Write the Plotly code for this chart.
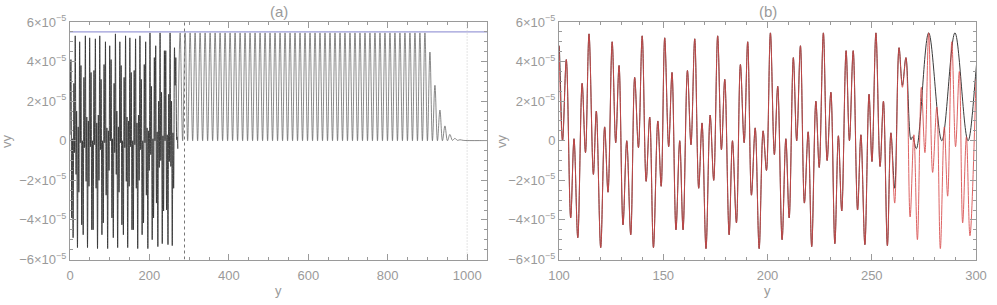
import numpy as np
import plotly.graph_objects as go

# ---------------- data (vy in units of 1e-5) ----------------
# extrema of the early, irregular part (0-100), estimated from panel (a)
seg0_x = [0.0, 2.3, 4.4, 6.0, 7.8, 9.9, 11.5, 13.2, 15.3, 16.7, 18.8, 20.7, 22.3, 24.3,
          26.0, 27.6, 29.5, 31.3, 33.2, 35.1, 36.9, 38.7, 40.6, 42.3, 44.1, 46.2, 47.8,
          49.5, 51.4, 53.0, 54.9, 56.7, 58.3, 60.4, 62.1, 63.9, 65.8, 67.4, 69.3, 71.3,
          73.0, 74.9, 76.7, 78.3, 80.4, 82.0, 83.9, 85.8, 87.6, 89.3, 91.1, 92.9, 94.8,
          96.7, 98.3]
seg0_v = [0.3, 4.1, -3.9, 0.1, -4.9, 2.9, -0.6, 5.3, -1.7, 1.5, -5.4, 0.7, -2.6, 5.0,
          -0.1, 3.8, -4.25, 0.0, -4.75, 3.2, -0.35, 5.3, -2.05, 1.2, -5.4, 1.0, -2.3,
          5.2, -0.3, 3.45, -4.5, 0.0, -4.5, 3.55, -0.2, 5.15, -2.4, 0.9, -5.45, 1.3,
          -2.0, 5.3, -0.45, 3.1, -4.75, 0.0, -4.15, 3.85, -0.1, 5.0, -2.75, 0.65, -5.45,
          0.5, -1.5]

# extrema common to both curves (100-259)
common_x = [100.0, 101.7, 103.5, 105.6, 107.2, 109.0, 111.1, 112.7, 114.4, 116.5, 117.9,
            120.0, 121.9, 123.5, 125.5, 127.2, 128.8, 130.7, 132.5, 134.4, 136.3, 138.1,
            139.9, 141.8, 143.5, 145.3, 147.4, 149.0, 150.7, 152.6, 154.2, 156.1, 157.9,
            159.5, 161.6, 163.3, 165.1, 167.0, 168.6, 170.5, 172.5, 174.2, 176.1, 177.9,
            179.5, 181.6, 183.2, 185.1, 187.0, 188.8, 190.5, 192.3, 194.1, 196.0, 197.9,
            199.5, 201.4, 203.3, 204.9, 207.0, 208.8, 210.4, 212.4, 214.0, 215.8, 217.7,
            219.5, 221.2, 223.2, 224.8, 226.8, 228.6, 230.4, 232.3, 234.0, 235.6, 237.7,
            239.3, 241.1, 243.2, 244.8, 246.7, 248.7, 250.1, 252.0, 254.0, 255.6, 257.5,
            259.2]
common_v = [4.8, 0.0, 4.1, -3.9, 0.1, -4.9, 2.9, -0.6, 5.4, -1.7, 1.5,
            -5.4, 0.7, -2.6, 5.0, -0.1, 3.8, -4.25, 0.0, -4.75, 3.2, -0.35,
            5.3, -2.05, 1.2, -5.4, 1.0, -2.3, 5.2, -0.3, 3.45, -4.5, 0.0,
            -4.5, 3.55, -0.2, 5.15, -2.4, 0.9, -5.45, 1.3, -2.0, 5.3, -0.45,
            3.1, -4.75, 0.0, -4.15, 3.85, -0.1, 5.0, -2.75, 0.65, -5.45, 0.5,
            -1.5, 5.45, -0.7, 2.75, -5.0, 0.1, -3.9, 4.2, 0.0, 4.8, -3.15,
            0.45, -5.35, 2.0, -1.35, 5.45, -1.0, 2.45, -5.2, 0.25, -3.55, 4.55,
            0.0, 4.55, -3.5, 0.3, -5.25, 2.35, -1.05, 5.45, -1.3, 2.0, -5.3,
            0.4]

# black curve after divergence
black_tail_x = [261.0, 263.1, 264.7, 266.4, 268.8, 269.6, 271.4]
black_tail_v = [-2.4, 4.7, 2.8, 4.2, 0.05, 0.2, -0.4]

# red curve after divergence
red_tail_x = [261.0, 263.1, 264.7, 266.4, 268.4, 270.2, 271.9, 273.8, 275.5, 277.3,
              279.2, 281.2, 282.9, 284.8, 286.4, 288.4, 290.2, 292.0, 293.6, 295.4,
              297.1, 300.0]
red_tail_v = [-3.15, 4.7, 2.7, 4.2, -3.85, 0.3, -5.0, 2.7, -0.6, 5.45,
              -1.6, 1.7, -5.45, 0.7, -2.8, 5.0, -0.3, 3.5, -4.15, 0.2,
              -4.8, 3.1]

# regular oscillation (panel a): crest positions and trough positions
reg_peak_x = [277.3, 289.9, 302.5, 315.0, 327.6, 340.2, 352.8, 365.4, 377.9, 390.5,
              403.1, 415.7, 428.3, 440.8, 453.4, 466.0, 478.6, 491.2, 503.7, 516.3,
              528.9, 541.5, 554.1, 566.6, 579.2, 591.8, 604.4, 617.0, 629.5, 642.1,
              654.7, 667.3, 679.9, 692.4, 705.0, 717.6, 730.2, 742.8, 755.3, 767.9,
              780.5, 793.1, 805.7, 818.2, 830.8, 843.4, 856.0, 868.6, 881.1, 893.7]
reg_peak_v = [5.45] * len(reg_peak_x)
reg_trough_x = [283.6, 296.2, 308.8, 321.3, 333.9, 346.5, 359.1, 371.7, 384.2, 396.8,
                409.4, 422.0, 434.6, 447.1, 459.7, 472.3, 484.9, 497.5, 510.0, 522.6,
                535.2, 547.8, 560.4, 572.9, 585.5, 598.1, 610.7, 623.3, 635.8, 648.4,
                661.0, 673.6, 686.2, 698.7, 711.3, 723.9, 736.5, 749.1, 761.6, 774.2,
                786.8, 799.4, 812.0, 824.5, 837.1, 849.7, 862.3, 874.9, 887.4]
reg_trough_v = [0.0] * len(reg_trough_x)

# decaying tail and flat end
decay_x = [900.0, 906.3, 912.6, 918.9, 925.2, 931.5, 937.8, 944.1, 950.4, 956.6,
           962.9, 969.2, 975.5, 981.8, 990.0, 1000.0, 1050.0]
decay_v = [0.0, 4.48, 0.0, 2.8, 0.0, 1.55, 0.0, 0.75, 0.0, 0.32,
           0.02, 0.12, 0.02, 0.05, 0.02, 0.01, 0.01]

max_level = 5.5          # horizontal reference line
front_pos = 288.3        # dashed vertical line
end_pos = 1000.0         # dotted vertical line

y_tickvals = [-6, -4, -2, 0, 2, 4, 6]
y_ticktext = ["\u22126\u00d710<sup>\u22125</sup>", "\u22124\u00d710<sup>\u22125</sup>",
              "\u22122\u00d710<sup>\u22125</sup>", "0", "2\u00d710<sup>\u22125</sup>",
              "4\u00d710<sup>\u22125</sup>", "6\u00d710<sup>\u22125</sup>"]
xa_ticks = [0, 200, 400, 600, 800, 1000]
xb_ticks = [100, 150, 200, 250, 300]

# ---------------- assemble ----------------
SC = 1e-5
dense_x = seg0_x + common_x + black_tail_x
dense_v = seg0_v + common_v + black_tail_v
reg = sorted(zip(reg_peak_x + reg_trough_x, reg_peak_v + reg_trough_v))
late_x = [dense_x[-1]] + [p[0] for p in reg] + decay_x
late_v = [dense_v[-1]] + [p[1] for p in reg] + decay_v
bx = dense_x + late_x[1:]
bv = [v * SC for v in dense_v + late_v[1:]]

rx = common_x + red_tail_x
rv = [v * SC for v in common_v + red_tail_v]

GRAY = "#9a9a9a"
FONT = "Liberation Sans"

fig = go.Figure()
fig.add_trace(go.Scatter(x=dense_x, y=[v * SC for v in dense_v], mode="lines",
                         line=dict(color="#333333", width=0.9, shape="spline"),
                         xaxis="x", yaxis="y", showlegend=False, hoverinfo="skip"))
fig.add_trace(go.Scatter(x=late_x, y=[v * SC for v in late_v], mode="lines",
                         line=dict(color="#6a6a6a", width=0.8, shape="spline"),
                         xaxis="x", yaxis="y", showlegend=False, hoverinfo="skip"))
fig.add_trace(go.Scatter(x=[0, 1050], y=[max_level * SC] * 2, mode="lines",
                         line=dict(color="#9c9cd8", width=1.2), xaxis="x", yaxis="y", showlegend=False))
fig.add_trace(go.Scatter(x=[front_pos] * 2, y=[-6 * SC, 6 * SC], mode="lines",
                         line=dict(color="#777777", width=1, dash="3px,3px"), xaxis="x", yaxis="y", showlegend=False))
fig.add_trace(go.Scatter(x=[end_pos] * 2, y=[-6 * SC, 6 * SC], mode="lines",
                         line=dict(color="#c8c8c8", width=1, dash="1px,2px"), xaxis="x", yaxis="y", showlegend=False))

fig.add_trace(go.Scatter(x=bx, y=bv, mode="lines", line=dict(color="#3a3a3a", width=1, shape="spline"),
                         xaxis="x2", yaxis="y2", showlegend=False, hoverinfo="skip"))
fig.add_trace(go.Scatter(x=rx, y=rv, mode="lines", line=dict(color="#d84848", width=1, shape="spline"),
                         opacity=0.85, xaxis="x2", yaxis="y2", showlegend=False, hoverinfo="skip"))

W, H = 997, 305
dom_y = [(H - 259.5) / H, (H - 22) / H]

def xaxis(dom, rng, ticks, minor):
    return dict(domain=dom, range=rng, tickvals=ticks, ticks="inside", ticklen=6, tickcolor=GRAY,
                tickwidth=1, showline=True, linecolor=GRAY, linewidth=1, mirror="ticks",
                showgrid=False, zeroline=False, tickfont=dict(family=FONT, size=13, color=GRAY),
                ticklabelstandoff=4,
                minor=dict(dtick=minor, ticks="inside", ticklen=3, tickcolor=GRAY, showgrid=False),
                automargin=False)

def yaxis(anchor):
    return dict(domain=dom_y, range=[-6 * SC, 6 * SC], tickvals=[v * SC for v in y_tickvals],
                ticktext=y_ticktext, ticks="inside", ticklen=6, tickcolor=GRAY, tickwidth=1,
                showline=True, linecolor=GRAY, linewidth=1, mirror="ticks", showgrid=False,
                zeroline=False, tickfont=dict(family=FONT, size=13, color=GRAY), anchor=anchor,
                minor=dict(dtick=0.5 * SC, ticks="inside", ticklen=3, tickcolor=GRAY, showgrid=False),
                automargin=False)

fig.update_layout(
    width=W, height=H, margin=dict(l=0, r=0, t=0, b=0),
    paper_bgcolor="white", plot_bgcolor="white",
    xaxis=xaxis([70 / W, 487 / W], [0, 1050], xa_ticks, 50) | dict(anchor="y"),
    yaxis=yaxis("x"),
    xaxis2=xaxis([559 / W, 976 / W], [100, 300], xb_ticks, 10) | dict(anchor="y2"),
    yaxis2=yaxis("x2"),
)

ann_font = dict(family=FONT, size=13, color=GRAY)
common = dict(xref="paper", yref="paper", showarrow=False, xanchor="center", yanchor="middle")
fig.add_annotation(x=278.5 / W, y=(H - 12) / H, text="(a)", font=dict(family=FONT, size=15, color=GRAY), **common)
fig.add_annotation(x=767.5 / W, y=(H - 12) / H, text="(b)", font=dict(family=FONT, size=15, color=GRAY), **common)
for xc in (278.5, 767.5):
    fig.add_annotation(x=xc / W, y=(H - 290) / H, text="y", font=ann_font, **common)
for xc in (6, 501):
    fig.add_annotation(x=xc / W, y=(H - 141) / H, text="vy", textangle=-90, font=ann_font, **common)

fig.write_html("out.html", config={"displayModeBar": False},
               post_script="document.body.style.margin='0';document.body.style.padding='0';"
                           "document.body.style.overflow='hidden';")
